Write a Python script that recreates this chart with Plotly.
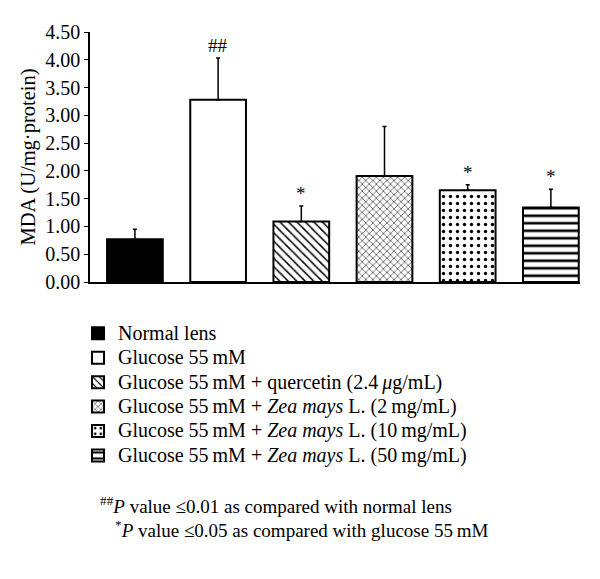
import plotly.graph_objects as go

categories = ["Normal lens", "Glucose 55 mM", "Quercetin", "Zea 2", "Zea 10", "Zea 50"]
legend_names = [
    "Normal lens",
    "Glucose 55\u2009mM",
    "Glucose 55\u2009mM + quercetin (2.4\u2009<i>μ</i>g/mL)",
    "Glucose 55\u2009mM + <i>Zea mays</i> L. (2\u2009mg/mL)",
    "Glucose 55\u2009mM + <i>Zea mays</i> L. (10\u2009mg/mL)",
    "Glucose 55\u2009mM + <i>Zea mays</i> L. (50\u2009mg/mL)",
]
means = [0.77, 3.28, 1.09, 1.91, 1.65, 1.34]
errors = [0.18, 0.75, 0.28, 0.89, 0.10, 0.33]
sig_marks = ["", "##", "*", "", "*", "*"]

patterns = [
    dict(shape="", fillmode="replace"),
    dict(shape="", fillmode="replace"),
    dict(shape="\\", fgcolor="black", bgcolor="white", size=6, solidity=0.25, fillmode="replace"),
    dict(shape="x", fgcolor="black", bgcolor="white", size=5, solidity=0.2, fillmode="replace"),
    dict(shape=".", fgcolor="black", bgcolor="white", size=7, solidity=0.18, fillmode="replace"),
    dict(shape="-", fgcolor="black", bgcolor="white", size=7.5, solidity=0.35, fillmode="replace"),
]
fills = ["black", "white", "white", "white", "white", "white"]

FONT = "Liberation Serif"
fig = go.Figure()
for i in range(len(categories)):
    fig.add_trace(go.Bar(
        x=[i], y=[means[i]],
        name='<span style="font-size:20px">' + legend_names[i] + '</span>',
        width=0.67,
        marker=dict(color=fills[i], pattern=patterns[i], line=dict(color="black", width=2)),
        error_y=dict(type="data", symmetric=False, array=[errors[i]], arrayminus=[0],
                     color="black", thickness=1.5, width=2),
    ))
    if sig_marks[i]:
        fig.add_annotation(x=i, y=means[i] + errors[i], text=sig_marks[i], showarrow=False,
                           yanchor="bottom", yshift=0,
                           font=dict(family=FONT, size=19, color="#000000"))

fig.add_annotation(xref="paper", yref="paper", x=(98 - 90) / 490, y=(282 - 505) / 250,
                   xanchor="left", yanchor="middle",
                   text="<sup>##</sup><i>P</i> value ≤0.01 as compared with normal lens",
                   showarrow=False, font=dict(family=FONT, size=19, color="#000000"))
fig.add_annotation(xref="paper", yref="paper", x=(113 - 90) / 490, y=(282 - 529) / 250,
                   xanchor="left", yanchor="middle",
                   text="<sup>*</sup><i>P</i> value ≤0.05 as compared with glucose 55\u2009mM",
                   showarrow=False, font=dict(family=FONT, size=19, color="#000000"))

fig.update_layout(
    width=600, height=579,
    margin=dict(l=90, r=20, t=32, b=297, autoexpand=False),
    plot_bgcolor="white", paper_bgcolor="white",
    barmode="overlay",
    font=dict(family=FONT, color="black"),
    showlegend=True,
    legend=dict(x=(78 - 90) / 490, y=-0.136, xanchor="left", yanchor="top",
                font=dict(family=FONT, size=16.5, color="black"),
                bgcolor="rgba(0,0,0,0)", traceorder="normal", itemwidth=30),
    xaxis=dict(range=[-0.54, 5.35], showticklabels=False, ticks="", showline=True,
               linecolor="black", linewidth=1.5, showgrid=False, zeroline=False,
               automargin=False),
    yaxis=dict(range=[0, 4.5], dtick=0.5, tickformat=".2f", ticks="outside", ticklen=4,
               tickcolor="black", showline=True, linecolor="black", linewidth=1.5,
               showgrid=False, zeroline=False, automargin=False,
               tickfont=dict(family=FONT, size=20, color="black"),
               title=dict(text="MDA (U/mg·protein)", font=dict(family=FONT, size=20.5, color="black"),
                          standoff=4)),
)
fig.write_html("out.html", config={"displayModeBar": False},
               post_script="document.body.style.margin='0';")
